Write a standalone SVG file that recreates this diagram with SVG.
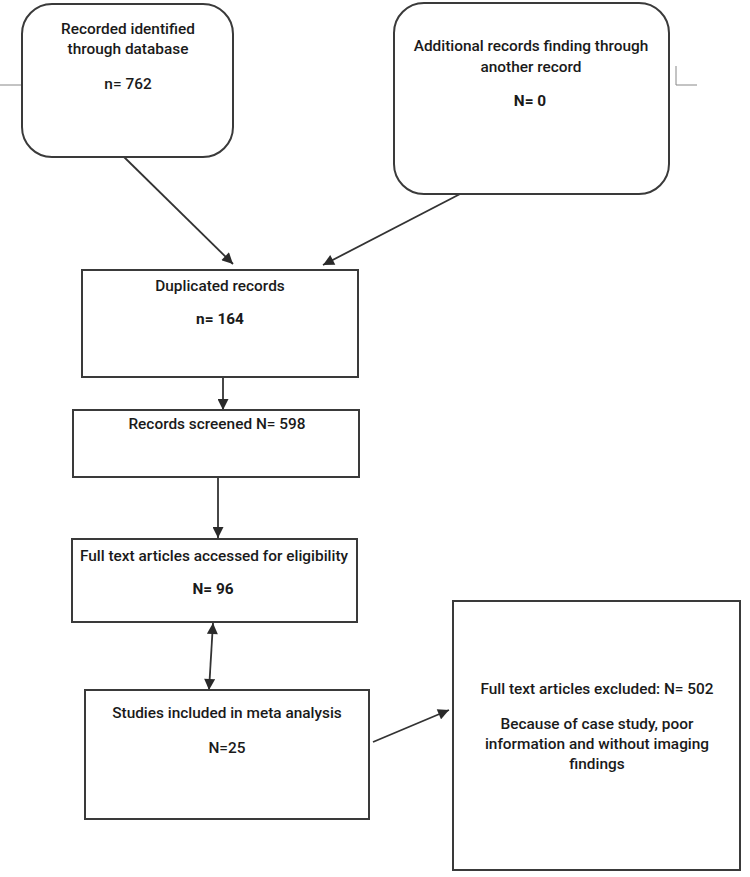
<svg xmlns="http://www.w3.org/2000/svg" width="750" height="877" viewBox="0 0 750 877">
<defs>
<style>
.box{fill:#fff;stroke:#3a3a3a;stroke-width:2}
.t{font-family:Roboto,"Liberation Sans",sans-serif;font-size:15.4px;font-weight:500;fill:#1a1a1a;text-anchor:middle}
.b{font-weight:700}
.con{stroke:#333;stroke-width:1.8;fill:none}
.thin{stroke:#888;stroke-width:1;fill:none}
</style>
<marker id="ah" viewBox="0 0 10 10" refX="10" refY="5" markerWidth="12" markerHeight="11" markerUnits="userSpaceOnUse" orient="auto-start-reverse">
<path d="M0,0 L10,5 L0,10 z" fill="#2a2a2a"/>
</marker>
</defs>
<rect width="750" height="877" fill="#fff"/>
<g id="marks">
<path class="thin" d="M0,85 H22"/>
<path class="thin" d="M676,66 V85 H697"/>
</g>
<g id="connectors">
<line class="con" x1="123" y1="156" x2="233" y2="264" marker-end="url(#ah)"/>
<line class="con" x1="462" y1="193" x2="323" y2="265" marker-end="url(#ah)"/>
<line class="con" x1="223" y1="377" x2="223" y2="410" marker-end="url(#ah)"/>
<line class="con" x1="218" y1="477" x2="218" y2="538" marker-end="url(#ah)"/>
<line class="con" x1="213" y1="623" x2="209" y2="690" marker-start="url(#ah)" marker-end="url(#ah)"/>
<line class="con" x1="373" y1="742" x2="449" y2="710" marker-end="url(#ah)"/>
</g>
<g id="node-database">
<rect class="box" x="22" y="4" width="211" height="153" rx="30"/>
<text class="t" x="128" y="34">Recorded identified</text>
<text class="t" x="128" y="54">through database</text>
<text class="t" x="128" y="89">n= 762</text>
</g>
<g id="node-additional">
<rect class="box" x="394" y="3" width="275" height="191" rx="30"/>
<text class="t" x="531" y="51">Additional records finding through</text>
<text class="t" x="531" y="72">another record</text>
<text class="t b" x="530" y="106">N= 0</text>
</g>
<g id="node-duplicated">
<rect class="box" x="82" y="270" width="276" height="107"/>
<text class="t" x="220" y="291">Duplicated records</text>
<text class="t b" x="220" y="324">n= 164</text>
</g>
<g id="node-screened">
<rect class="box" x="73" y="410" width="286" height="67"/>
<text class="t" x="217" y="429">Records screened N= 598</text>
</g>
<g id="node-fulltext">
<rect class="box" x="72" y="539" width="285" height="83"/>
<text class="t" x="214" y="561">Full text articles accessed for eligibility</text>
<text class="t b" x="213" y="594">N= 96</text>
</g>
<g id="node-included">
<rect class="box" x="85" y="690" width="284" height="129"/>
<text class="t" x="227" y="718">Studies included in meta analysis</text>
<text class="t" x="227" y="753">N=25</text>
</g>
<g id="node-excluded">
<rect class="box" x="453" y="601" width="287" height="269"/>
<text class="t" x="597" y="694">Full text articles excluded: N= 502</text>
<text class="t" x="597" y="729">Because of case study, poor</text>
<text class="t" x="597" y="749">information and without imaging</text>
<text class="t" x="597" y="769">findings</text>
</g>
</svg>
